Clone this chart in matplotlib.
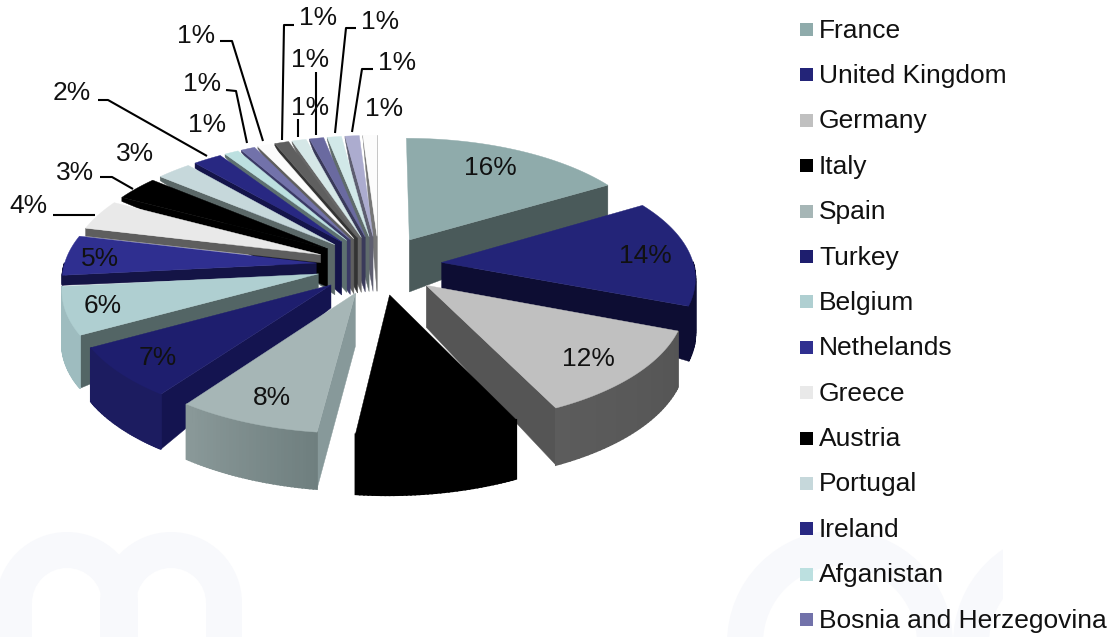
import numpy as np
import matplotlib
matplotlib.use("Agg")
import matplotlib.pyplot as plt
from matplotlib.colors import to_rgb
from matplotlib.patches import Polygon, Rectangle, Wedge

plt.rcParams['font.family'] = ['Liberation Sans', 'DejaVu Sans']

# Data
countries = ["France", "United Kingdom", "Germany", "Italy", "Spain", "Turkey", "Belgium",
             "Nethelands", "Greece", "Austria", "Portugal", "Ireland", "Afganistan",
             "Bosnia and Herzegovina", "", "", "", "", "", "", ""]
shares = [16.4, 14.4, 12, 9.1, 8, 7, 6.4, 5.4, 4.05, 3.25, 2.55, 2.1, 1.03, 1.03, 1.03, 1.03, 1.03, 1.03, 1.03, 1.03, 1.03]
labels = ["16%", "14%", "12%", "", "8%", "7%", "6%", "5%", "4%", "3%", "3%", "2%",
          "1%", "1%", "1%", "1%", "1%", "1%", "1%", "1%", "1%"]

top_colors = ["#8FABAB", "#232478", "#C0C0C0", "#000000", "#A6B6B6", "#1E1E6E", "#AFCFD1",
              "#2F2F90", "#E9E9E9", "#000000", "#C6D8DB", "#282882", "#BCE0E0",
              "#7272AA", "#FBFBFB", "#5F5F5F", "#D5E7E7", "#6A6AA0", "#D1E8E8", "#ACACCF", "#FCFCFC"]
face_colors = ["#4A5A5A", "#0D0D33", "#555555", "#000000", "#87999A", "#141450", "#536565",
               "#141446", "#5E5E5E", "#000000", "#5B6868", "#14144A", "#5D7070",
               "#3A3A66", "#5F5F5F", "#333333", "#666666", "#3A3A5A", "#606C6C", "#5E5E70", "#777777"]
rim_colors = [("#4A5A5A", "#4A5A5A"), ("#0D0D33", "#0D0D33"), ("#555555", "#5C5C5C"), ("#000000", "#000000"),
              ("#6F7F7F", "#8A9999"), ("#1C1C60", "#1C1C60"), ("#9EBCBF", "#9EBCBF"),
              ("#141446", "#141446"), ("#5E5E5E", "#5E5E5E"), ("#000000", "#000000")] + [("#666666", "#666666")] * 11

# depth of each slice, at the tip and at both ends of the rim (px)
tip_depth = [52, 27, 42, 50, 53, 23, 14, 12, 8, 38, 50, 53, 52, 55, 55, 55, 55, 55, 55, 55, 55]
rim_depth = [(32, 32), (55, 55), (56, 57), (59, 60), (57, 55), (55, 54), (53, 53), (10, 10), (8, 8), (4, 4),
             (4, 4), (5, 5), (3, 3), (2, 2), (2, 2), (2, 2), (2, 2), (2, 2), (2, 2), (2, 2), (2, 2)]

label_pos = [(490, 168), (645, 256), (588, 359), None, (272, 398), (158, 358), (103, 306), (100, 259),
             (28, 206), (75, 173), (135, 154), (72, 93), (207, 125), (202, 84), (196, 36), (318, 18),
             (310, 108), (310, 60), (380, 22), (397, 63), (384, 109)]
leaders = [[(53, 215), (95, 215)],
           [(100, 177), (112, 177), (133, 189)],
           [(98, 100), (108, 100), (207, 156)],
           [(226, 90), (236, 91), (247, 143)],
           [(220, 41), (232, 41), (263, 141)],
           [(294, 25), (284, 25), (282, 140)],
           [(298, 119), (298, 137)],
           [(316, 72), (316, 135)],
           [(356, 28), (346, 28), (335, 133)],
           [(373, 69), (362, 69), (352, 132)]]

CX, CY = 379, 265
RX, RY = 252, 118
PERSP = 0.11
EXPLODE = 0.25


def project(x, y):
    w = 1 + PERSP * y
    return CX + RX * x / w, CY - RY * y / w


fig = plt.figure(figsize=(11.11, 6.37), dpi=100)
ax = fig.add_axes([0, 0, 1, 1])
ax.set_xlim(0, 1111)
ax.set_ylim(637, 0)
ax.axis('off')

# pale watermark behind the chart
wm = "#F8F9FC"
for cx, r, top in [(67, 71, 532), (171, 71, 532), (840, 113, 530), (1066, 113, 530)]:
    patch = Wedge((cx, top + r), r, 180, 360, width=36, fc=wm, ec='none', zorder=0)
    ax.add_patch(patch)
    if cx > 1000:
        patch.set_clip_path(Rectangle((0, 0), 1003, 637, transform=ax.transData))
    for x in (cx - r, cx + r - 36):
        stem = Rectangle((x, top + r), 36, 637 - top - r, fc=wm, ec='none', zorder=0)
        ax.add_patch(stem)

total = sum(shares)
edges = np.cumsum([0] + shares) / total * 2 * np.pi
mids = (edges[:-1] + edges[1:]) / 2


def draw_slice(i):
    a0, a1 = edges[i], edges[i + 1]
    ex, ey = EXPLODE * np.sin(mids[i]), EXPLODE * np.cos(mids[i])
    t = np.linspace(a0, a1, 40)
    gx, gy = project(ex + np.sin(t), ey + np.cos(t))
    tx, ty = project(ex, ey)
    h0, h1 = rim_depth[i]
    hh = np.linspace(h0, h1, 40)

    # cut faces that look toward the viewer
    if np.sin(a1) > 0:
        ax.add_patch(Polygon([(tx, ty), (gx[-1], gy[-1]), (gx[-1], gy[-1] + h1), (tx, ty + tip_depth[i])],
                             fc=face_colors[i], ec=face_colors[i], lw=0.3, zorder=2 + order[i]))
    if np.sin(a0) < 0:
        ax.add_patch(Polygon([(tx, ty), (gx[0], gy[0]), (gx[0], gy[0] + h0), (tx, ty + tip_depth[i])],
                             fc=face_colors[i], ec=face_colors[i], lw=0.3, zorder=2 + order[i]))

    # outer rim, only the part on the front half
    c0, c1 = np.array(to_rgb(rim_colors[i][0])), np.array(to_rgb(rim_colors[i][1]))
    for k in range(39):
        if np.cos((t[k] + t[k + 1]) / 2) < 0:
            col = c0 + (c1 - c0) * k / 38
            ax.add_patch(Polygon([(gx[k], gy[k]), (gx[k + 1], gy[k + 1]),
                                  (gx[k + 1], gy[k + 1] + hh[k + 1]), (gx[k], gy[k] + hh[k])],
                                 fc=col, ec=col, lw=1.2, zorder=2 + order[i]))

    ax.add_patch(Polygon(np.vstack([[tx, ty], np.column_stack([gx, gy])]),
                         fc=top_colors[i], ec=top_colors[i], lw=0.3, zorder=2.5 + order[i]))


# back slices first
order = {j: rank for rank, j in enumerate(np.argsort(-np.cos(mids)))}
for i in range(len(shares)):
    draw_slice(i)

for pts in leaders:
    xs, ys = zip(*pts)
    ax.plot(xs, ys, color='black', lw=1.5, zorder=40, solid_capstyle='butt')

for lab, pos in zip(labels, label_pos):
    if pos is not None:
        ax.text(pos[0], pos[1], lab, fontsize=19, color='#111111', ha='center', va='center', zorder=50)

# legend
for i, name in enumerate(countries):
    if not name:
        continue
    y = 29.5 + i * 45.4
    ax.add_patch(Rectangle((800, y - 6.5), 13, 13, fc=top_colors[i], ec='none', zorder=3))
    ax.text(819, y + 1, name, fontsize=19, color='#111111', ha='left', va='center', zorder=50)

fig.savefig("out.png", dpi=100)
